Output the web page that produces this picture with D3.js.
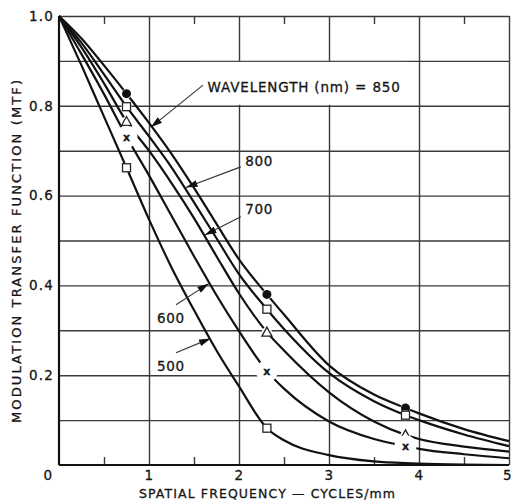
<!DOCTYPE html>
<html>
<head>
<meta charset="utf-8">
<script src="https://cdn.jsdelivr.net/npm/d3@7"></script>
<style>
  body { margin: 0; background: #fff; }
  text { font-family: "DejaVu Sans", sans-serif; fill: #151515; stroke: #151515; stroke-width: 0.3px; }
</style>
</head>
<body>
<div id="chart"></div>
<script>
// spatial frequency (cycles/mm) where the curves were read
const freqs = [0, 0.25, 0.5, 0.75, 1, 1.25, 1.5, 1.75, 2, 2.31, 2.5, 3, 3.5, 3.85, 4, 4.5, 5];

// MTF per wavelength (nm)
const mtf850 = [1, 0.95, 0.89, 0.827, 0.762, 0.693, 0.617, 0.537, 0.458, 0.38, 0.335, 0.222, 0.157, 0.127, 0.115, 0.08, 0.053];
const mtf800 = [1, 0.94, 0.87, 0.798, 0.732, 0.663, 0.585, 0.505, 0.425, 0.347, 0.303, 0.205, 0.142, 0.111, 0.1, 0.068, 0.042];
const mtf700 = [1, 0.93, 0.85, 0.765, 0.7, 0.628, 0.55, 0.465, 0.382, 0.296, 0.255, 0.162, 0.097, 0.067, 0.058, 0.041, 0.03];
const mtf600 = [1, 0.915, 0.826, 0.731, 0.645, 0.555, 0.465, 0.378, 0.298, 0.209, 0.17, 0.097, 0.058, 0.042, 0.036, 0.024, 0.015];
const mtf500 = [1, 0.89, 0.776, 0.662, 0.547, 0.44, 0.345, 0.255, 0.175, 0.082, 0.055, 0.022, 0.008, 0.004, 0.003, 0.001, 0];

const wavelengths = ['850', '800', '700', '600', '500'];
const symbols = ['dot', 'square', 'triangle', 'cross', 'square'];
// measured points sit at these frequencies
const markerFreqs = [0.75, 2.31, 3.85];
const markerCount = [3, 3, 3, 3, 2];

const xTicks = [0, 1, 2, 3, 4, 5];
const yTicks = [0.2, 0.4, 0.6, 0.8, 1.0];

const series = [mtf850, mtf800, mtf700, mtf600, mtf500].map((vals, i) => ({
    name: wavelengths[i],
    symbol: symbols[i],
    points: freqs.map((f, j) => ({ f, v: vals[j] })),
    marks: markerFreqs.slice(0, markerCount[i]).map(f => ({ f, v: vals[freqs.indexOf(f)] }))
}));

// callouts, in data units
const callouts = [
    { text: 'WAVELENGTH (nm) = 850', at: [1.65, 0.83], tail: [1.6, 0.846], tip: [1.02, 0.752], len: 193, box: true },
    { text: '800', at: [2.07, 0.667], tail: [2.02, 0.664], tip: [1.41, 0.618] },
    { text: '700', at: [2.07, 0.56], tail: [2.02, 0.553], tip: [1.62, 0.512] },
    { text: '600', at: [1.09, 0.316], tail: [1.3, 0.357], tip: [1.665, 0.404] },
    { text: '500', at: [1.09, 0.209], tail: [1.3, 0.25], tip: [1.685, 0.282] }
];

const width = 511, height = 502;
const x = d3.scaleLinear().domain([0, 5]).range([59, 509]);
const y = d3.scaleLinear().domain([0, 1]).range([465, 16]);

const svg = d3.select('#chart').append('svg')
    .attr('width', width)
    .attr('height', height);

svg.append('rect').attr('width', width).attr('height', height).attr('fill', '#fff');

const defs = svg.append('defs');
defs.append('marker')
    .attr('id', 'head')
    .attr('viewBox', '0 0 10 6')
    .attr('refX', 10).attr('refY', 3)
    .attr('markerWidth', 12).attr('markerHeight', 7)
    .attr('markerUnits', 'userSpaceOnUse')
    .attr('orient', 'auto')
    .append('path').attr('d', 'M0,0 L10,3 L0,6 Z').attr('fill', '#111');

// grid
const plotW = x(5) - x(0), plotH = y(0) - y(1);
const grid = svg.append('g').attr('class', 'grid');
grid.append('g')
    .attr('transform', `translate(0,${y(0)})`)
    .call(d3.axisBottom(x).tickValues([1, 2, 3, 4, 5]).tickSize(-plotH).tickFormat(''));
grid.append('g')
    .attr('transform', `translate(${x(0)},0)`)
    .call(d3.axisLeft(y).tickValues(d3.range(1, 11).map(d => d / 10)).tickSize(-plotW).tickFormat(''));
// half-unit ticks top and bottom
grid.append('g')
    .attr('transform', `translate(0,${y(0)})`)
    .call(d3.axisBottom(x).tickValues([0.5, 1.5, 2.5, 3.5, 4.5]).tickSize(-8).tickFormat(''));
grid.append('g')
    .attr('transform', `translate(0,${y(1)})`)
    .call(d3.axisTop(x).tickValues([0.5, 1.5, 2.5, 3.5, 4.5]).tickSize(-8).tickFormat(''));
grid.selectAll('.domain').remove();
grid.selectAll('line').attr('stroke', '#3a3a3a').attr('stroke-width', 1.4);

// white box behind the big label
callouts.filter(c => c.box).forEach(c => {
    svg.append('rect')
        .attr('x', x(c.at[0]) - 8)
        .attr('y', y(0.9) + 1)
        .attr('width', c.len + 14)
        .attr('height', y(0.8) - y(0.9) - 2)
        .attr('fill', '#fff');
});

// curves
const line = d3.line()
    .x(d => x(d.f))
    .y(d => y(d.v))
    .curve(d3.curveMonotoneX);

svg.append('g').selectAll('path')
    .data(series)
    .join('path')
    .attr('d', d => line(d.points))
    .attr('fill', 'none')
    .attr('stroke', '#111')
    .attr('stroke-width', 2.2);

// markers: white halo breaks the line, then the symbol
const markG = svg.append('g');
series.forEach(s => {
    const g = markG.append('g');
    g.selectAll('circle.halo')
        .data(s.marks)
        .join('circle')
        .attr('class', 'halo')
        .attr('cx', d => x(d.f))
        .attr('cy', d => y(d.v))
        .attr('r', s.symbol === 'cross' ? 11 : 5)
        .attr('fill', '#fff');

    const pts = g.selectAll('.sym').data(s.marks).join('g')
        .attr('class', 'sym')
        .attr('transform', d => `translate(${x(d.f)},${y(d.v)})`);

    if (s.symbol === 'dot') {
        pts.append('circle').attr('r', 4.5).attr('fill', '#111');
    } else if (s.symbol === 'square') {
        pts.append('rect').attr('x', -4).attr('y', -4).attr('width', 8).attr('height', 8)
            .attr('fill', '#fff').attr('stroke', '#222').attr('stroke-width', 1.3);
    } else if (s.symbol === 'triangle') {
        pts.append('path').attr('d', 'M0,-5 L5,4 L-5,4 Z')
            .attr('fill', '#fff').attr('stroke', '#222').attr('stroke-width', 1.3);
    } else {
        pts.append('text').attr('text-anchor', 'middle').attr('dy', '0.35em')
            .style('font-size', '11px').style('font-weight', 'bold').text('x');
    }
});

// axes frame
svg.append('line')
    .attr('x1', x(0)).attr('x2', x(0)).attr('y1', y(0)).attr('y2', y(1))
    .attr('stroke', '#111').attr('stroke-width', 2.2);
svg.append('line')
    .attr('x1', x(0)).attr('x2', x(5)).attr('y1', y(0)).attr('y2', y(0))
    .attr('stroke', '#111').attr('stroke-width', 2.2);

// tick labels
const xAxis = svg.append('g')
    .attr('transform', `translate(0,${y(0)})`)
    .call(d3.axisBottom(x).tickValues(xTicks).tickSize(0).tickPadding(5).tickFormat(d3.format('d')));
const yAxis = svg.append('g')
    .attr('transform', `translate(${x(0)},0)`)
    .call(d3.axisLeft(y).tickValues(yTicks).tickSize(0).tickPadding(5).tickFormat(d3.format('.1f')));
[xAxis, yAxis].forEach(a => {
    a.select('.domain').remove();
    a.selectAll('text')
        .attr('fill', '#151515')
        .style('font-family', '"DejaVu Sans", sans-serif')
        .style('font-size', '13.5px')
        .style('letter-spacing', '1.2px');
});
xAxis.selectAll('.tick').filter(d => d === 0).select('text').attr('dx', -11);
xAxis.selectAll('.tick').filter(d => d === 5).select('text')
    .attr('text-anchor', 'end').attr('dx', 2).style('letter-spacing', '0px');

// axis titles
svg.append('text')
    .attr('transform', `translate(21,${(80 + 423) / 2}) rotate(-90)`)
    .attr('text-anchor', 'middle')
    .attr('textLength', 343)
    .attr('lengthAdjust', 'spacing')
    .style('font-size', '13px')
    .text('MODULATION TRANSFER FUNCTION (MTF)');

svg.append('text')
    .attr('x', 267)
    .attr('y', 498)
    .attr('text-anchor', 'middle')
    .attr('textLength', 256)
    .attr('lengthAdjust', 'spacing')
    .style('font-size', '12.5px')
    .text('SPATIAL FREQUENCY \u2014 CYCLES/mm');

// callouts
const ann = svg.append('g');
callouts.forEach(c => {
    ann.append('line')
        .attr('x1', x(c.tail[0])).attr('y1', y(c.tail[1]))
        .attr('x2', x(c.tip[0])).attr('y2', y(c.tip[1]))
        .attr('stroke', '#333').attr('stroke-width', 1.1)
        .attr('marker-end', 'url(#head)');
    const t = ann.append('text')
        .attr('x', x(c.at[0]))
        .attr('y', y(c.at[1]))
        .style('font-size', '13.5px')
        .style('letter-spacing', '0.6px')
        .text(c.text);
    if (c.len) t.attr('textLength', c.len).attr('lengthAdjust', 'spacing');
});
</script>
</body>
</html>
